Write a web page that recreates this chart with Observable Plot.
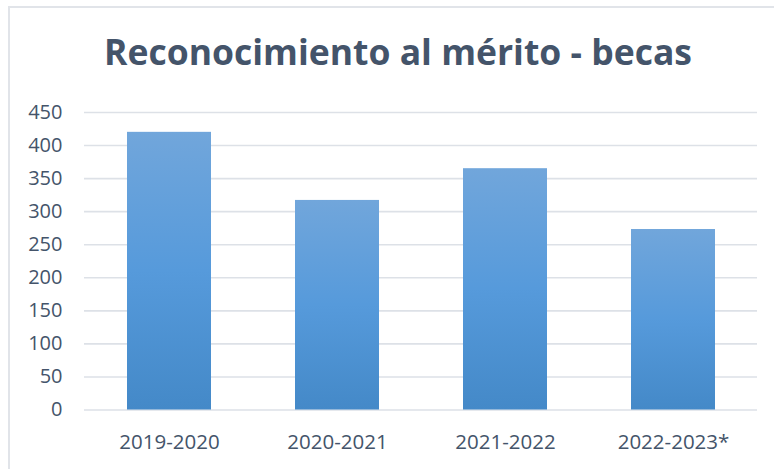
<!DOCTYPE html>
<html>
<head>
<meta charset="utf-8">
<script src="https://cdn.jsdelivr.net/npm/d3@7"></script>
<script src="https://cdn.jsdelivr.net/npm/@observablehq/plot@0.6"></script>
<style>
  html, body { margin: 0; padding: 0; background: #fff; }
  #wrap { position: relative; width: 774px; height: 469px; overflow: hidden; background: #fff; }
  #frame { position: absolute; left: 8px; top: 6px; width: 800px; height: 500px;
           border-top: 2px solid #e1e4e9; border-left: 2px solid #e1e4e9; box-sizing: border-box; }
  #title { position: absolute; left: 0; width: 796px; top: 30px; text-align: center;
           font-family: "Open Sans", sans-serif; font-weight: 700; font-size: 35.5px;
           color: #44546a; letter-spacing: 0px; line-height: 1.2; }
  #chart { position: absolute; left: 0; top: 95px; }
</style>
</head>
<body>
<div id="wrap">
  <div id="frame"></div>
  <div id="title">Reconocimiento al mérito - becas</div>
  <div id="chart"></div>
</div>
<script>
const categories = ["2019-2020", "2020-2021", "2021-2022", "2022-2023*"];
const values = [420, 317, 365, 273];
const yTicks = [0, 50, 100, 150, 200, 250, 300, 350, 400, 450];

const data = categories.map((c, i) => ({category: c, value: values[i]}));

const chart = Plot.plot({
  width: 774,
  height: 374,
  marginTop: 17,
  marginBottom: 59.5,
  marginLeft: 84,
  marginRight: 17,
  style: {fontFamily: "Open Sans, sans-serif", fontSize: "20px", color: "#44546a", background: "transparent"},
  x: {domain: categories, paddingInner: 0.5, paddingOuter: 0.25, label: null},
  y: {domain: [0, 450], ticks: yTicks, label: null},
  marks: [
    Plot.ruleY(yTicks, {stroke: "#dde1e7", strokeWidth: 1.6}),
    Plot.barY(data, {x: "category", y: "value", fill: "url(#barGrad)"}),
    Plot.axisY({ticks: yTicks, tickSize: 0, tickPadding: 22, fontSize: 20, fill: "#44546a", label: null}),
    Plot.axisX({tickSize: 0, tickPadding: 24, fontSize: 20.5, fill: "#44546a", label: null})
  ]
});

const svg = d3.select(chart);
const defs = svg.insert("defs", ":first-child");
const grad = defs.append("linearGradient").attr("id", "barGrad")
  .attr("x1", 0).attr("y1", 0).attr("x2", 0).attr("y2", 1);
grad.append("stop").attr("offset", "0%").attr("stop-color", "#71a6db");
grad.append("stop").attr("offset", "50%").attr("stop-color", "#569adb");
grad.append("stop").attr("offset", "100%").attr("stop-color", "#4489c8");

document.getElementById("chart").appendChild(chart);
</script>
</body>
</html>
